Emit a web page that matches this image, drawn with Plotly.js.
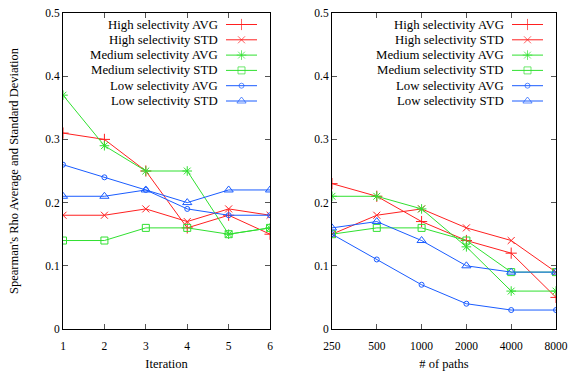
<!DOCTYPE html>
<html><head><meta charset="utf-8">
<script src="https://cdn.plot.ly/plotly-3.0.1.min.js"></script>
<style>html,body{margin:0;padding:0;background:#fff}#chart{width:570px;height:371px}</style>
</head><body><div id="chart"></div>
<script>
// ---- data ----
const seriesNames = ["High selectivity AVG","High selectivity STD","Medium selectivity AVG","Medium selectivity STD","Low selectivity AVG","Low selectivity STD"];
const iterations = [1,2,3,4,5,6];
const iterHighAvg = [0.31,0.30,0.25,0.16,0.18,0.15];
const iterHighStd = [0.18,0.18,0.19,0.17,0.19,0.18];
const iterMedAvg  = [0.37,0.29,0.25,0.25,0.15,0.16];
const iterMedStd  = [0.14,0.14,0.16,0.16,0.15,0.16];
const iterLowAvg  = [0.26,0.24,0.22,0.19,0.18,0.18];
const iterLowStd  = [0.21,0.21,0.22,0.20,0.22,0.22];
const paths = [250,500,1000,2000,4000,8000];
const pathTickLabels = ["250","500","1000","2000","4000","8000"];
const pathHighAvg = [0.23,0.21,0.17,0.14,0.12,0.05];
const pathHighStd = [0.15,0.18,0.19,0.16,0.14,0.09];
const pathMedAvg  = [0.21,0.21,0.19,0.13,0.06,0.06];
const pathMedStd  = [0.15,0.16,0.16,0.14,0.09,0.09];
const pathLowAvg  = [0.15,0.11,0.07,0.04,0.03,0.03];
const pathLowStd  = [0.16,0.17,0.14,0.10,0.09,0.09];

// ---- styles ----
const RED='#ff2020', GREEN='#30e030', BLUE='#1a5cff';
const styles = [
  {color:RED,   symbol:'cross-thin-open', size:8},
  {color:RED,   symbol:'x-thin-open', size:7},
  {color:GREEN, symbol:'asterisk-open', size:8},
  {color:GREEN, symbol:'square-open', size:7},
  {color:BLUE,  symbol:'circle-open', size:5},
  {color:BLUE,  symbol:'triangle-up-open', size:8}
];
const FONT = 'Liberation Serif, DejaVu Serif, serif';

const iterData = [iterHighAvg,iterHighStd,iterMedAvg,iterMedStd,iterLowAvg,iterLowStd];
const pathData = [pathHighAvg,pathHighStd,pathMedAvg,pathMedStd,pathLowAvg,pathLowStd];

const traces = [];
iterData.forEach((ys,i)=>{
  traces.push({x:iterations,y:ys,xaxis:'x',yaxis:'y',mode:'lines+markers',name:seriesNames[i],showlegend:false,
    line:{color:styles[i].color,width:1},marker:{symbol:styles[i].symbol,size:styles[i].size,color:styles[i].color,line:{color:styles[i].color,width:1}}});
});
pathData.forEach((ys,i)=>{
  traces.push({x:paths,y:ys,xaxis:'x2',yaxis:'y2',mode:'lines+markers',name:seriesNames[i],showlegend:false,
    line:{color:styles[i].color,width:1},marker:{symbol:styles[i].symbol,size:styles[i].size,color:styles[i].color,line:{color:styles[i].color,width:1}}});
});

// ---- custom gnuplot-style legends (text left, key right), pixel-space overlay axis ----
const annotations = [];
const legendPanels = [{textRight:220, keyL:226, keyR:257},{textRight:506, keyL:512, keyR:543}];
const rowY0 = 24.5, rowDY = 15.3;
legendPanels.forEach(p=>{
  seriesNames.forEach((nm,i)=>{
    const yy = rowY0 + rowDY*i;
    traces.push({x:[p.keyL,(p.keyL+p.keyR)/2,p.keyR],y:[yy,yy,yy],xaxis:'x3',yaxis:'y3',mode:'lines+markers',showlegend:false,hoverinfo:'skip',
      line:{color:styles[i].color,width:1},marker:{symbol:styles[i].symbol,size:[0,styles[i].size,0],color:styles[i].color,line:{color:styles[i].color,width:1}}});
    annotations.push({xref:'x3',yref:'y3',x:p.textRight,y:yy,text:nm,showarrow:false,xanchor:'right',yanchor:'middle',
      font:{family:FONT,size:12.8,color:'#000'}});
  });
});

const yCommon = {range:[0,0.5],dtick:0.1,tick0:0,ticks:'inside',ticklen:5,tickcolor:'#555',showline:true,linecolor:'#000',linewidth:1,
  mirror:'allticks',showgrid:false,zeroline:false,tickfont:{family:FONT,size:11.5,color:'#000'}};
const xCommon = {ticks:'inside',ticklen:5,tickcolor:'#555',showline:true,linecolor:'#000',linewidth:1,mirror:'allticks',showgrid:false,zeroline:false,
  tickfont:{family:FONT,size:11.5,color:'#000'},ticklabelstandoff:6};

const layout = {
  width:570,height:371,
  margin:{l:63,r:14,t:13,b:42},
  paper_bgcolor:'#fff',plot_bgcolor:'rgba(0,0,0,0)',
  showlegend:false,
  font:{family:FONT,color:'#000'},
  xaxis:Object.assign({},xCommon,{domain:[0,0.42],range:[1,6],tickvals:iterations,anchor:'y',
    title:{text:'Iteration',font:{family:FONT,size:12.5},standoff:19}}),
  yaxis:Object.assign({},yCommon,{domain:[0,1],anchor:'x',
    title:{text:"Spearman's Rho Average and Standard Deviation",font:{family:FONT,size:12.5},standoff:23}}),
  xaxis2:Object.assign({},xCommon,{domain:[0.5456,1],type:'log',range:[Math.log10(250),Math.log10(8000)],tickvals:paths,ticktext:pathTickLabels,anchor:'y2',
    title:{text:'# of paths',font:{family:FONT,size:12.5},standoff:19}}),
  yaxis2:Object.assign({},yCommon,{domain:[0,1],anchor:'x2'}),
  xaxis3:{domain:[0,1],range:[63,556],visible:false,fixedrange:true,anchor:'y3'},
  yaxis3:{domain:[0,1],range:[329,13],visible:false,fixedrange:true,anchor:'x3'},
  annotations:annotations
};
Plotly.newPlot('chart',traces,layout,{staticPlot:true,displayModeBar:false});
</script></body></html>
